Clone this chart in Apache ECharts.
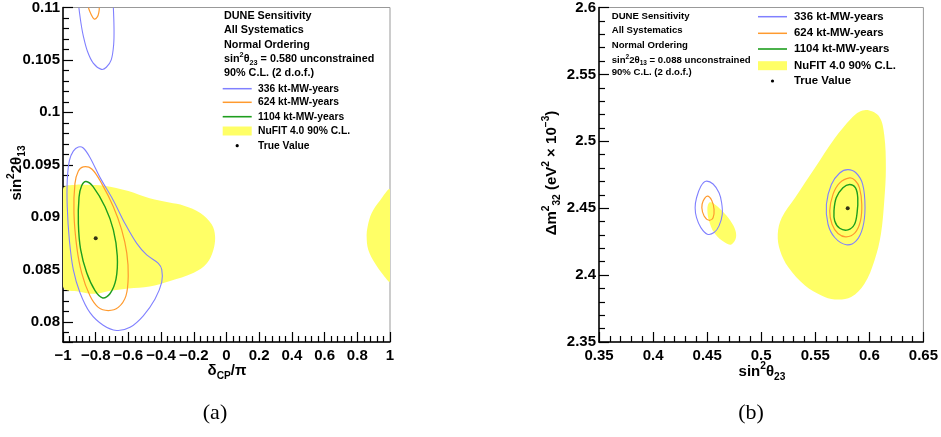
<!DOCTYPE html>
<html><head><meta charset="utf-8">
<script src="https://cdn.jsdelivr.net/npm/echarts@6/dist/echarts.min.js"></script>
<style>html,body{margin:0;padding:0;background:#fff}#c{width:941px;height:437px}</style>
</head><body><div id="c"></div>
<script>
// ---------- data ----------
// Panel (a): x = deltaCP/pi, y = sin^2(2 theta13)
const xTicksA = [-1, -0.8, -0.6, -0.4, -0.2, 0, 0.2, 0.4, 0.6, 0.8, 1];
const yTicksA = [0.08, 0.085, 0.09, 0.095, 0.1, 0.105, 0.11];
const blueA_main = [[-0.906,0.0967],[-0.937,0.0963],[-0.961,0.0954],[-0.974,0.0935],[-0.974,0.0910],[-0.961,0.0878],[-0.937,0.0850],[-0.896,0.0828],[-0.835,0.0809],[-0.754,0.0797],[-0.672,0.0792],[-0.590,0.0795],[-0.509,0.0806],[-0.437,0.0822],[-0.396,0.0838],[-0.396,0.0850],[-0.417,0.0856],[-0.488,0.0864],[-0.549,0.0875],[-0.621,0.0894],[-0.692,0.0916],[-0.774,0.0938],[-0.835,0.0957],[-0.876,0.0966]];
const blueA_top = [[-0.903,0.1100],[-0.890,0.1085],[-0.876,0.1073],[-0.850,0.1058],[-0.815,0.1047],[-0.765,0.1041],[-0.735,0.1043],[-0.705,0.1050],[-0.690,0.1065],[-0.688,0.1080],[-0.692,0.1100]];
const orangeA_main = [[-0.876,0.0948],[-0.906,0.0944],[-0.927,0.0932],[-0.933,0.0904],[-0.916,0.0872],[-0.886,0.0847],[-0.835,0.0825],[-0.784,0.0814],[-0.723,0.0811],[-0.662,0.0814],[-0.615,0.0825],[-0.601,0.0844],[-0.610,0.0866],[-0.641,0.0888],[-0.692,0.0910],[-0.763,0.0932],[-0.824,0.0946]];
const orangeA_top = [[-0.845,0.1100],[-0.830,0.1094],[-0.810,0.1089],[-0.790,0.1091],[-0.780,0.1096],[-0.778,0.1100]];
const greenA = [[-0.859,0.0934],[-0.886,0.0930],[-0.902,0.0919],[-0.906,0.0894],[-0.892,0.0869],[-0.855,0.0847],[-0.804,0.0830],[-0.757,0.0823],[-0.713,0.0827],[-0.676,0.0841],[-0.668,0.0863],[-0.692,0.0888],[-0.743,0.0910],[-0.815,0.0929]];
const nufitA_left = [[-1,0.0927],[-0.92,0.0931],[-0.85,0.0931],[-0.75,0.0930],[-0.6,0.0925],[-0.47,0.0918],[-0.35,0.0914],[-0.26,0.0911],[-0.16,0.0904],[-0.09,0.0893],[-0.07,0.0882],[-0.08,0.0869],[-0.12,0.0856],[-0.2,0.0847],[-0.35,0.0839],[-0.47,0.0834],[-0.6,0.0832],[-0.7,0.0830],[-0.8,0.0827],[-0.9,0.0829],[-1,0.0834]];
const nufitA_right = [[1,0.0926],[0.939,0.0916],[0.888,0.0904],[0.863,0.0891],[0.857,0.0882],[0.867,0.0869],[0.908,0.0856],[0.959,0.0845],[1,0.0839]];
const trueA = [[-0.8, 0.088]];

// Panel (b): x = sin^2 theta23, y = dm^2_32 (1e-3 eV^2)
const xTicksB = [0.35, 0.4, 0.45, 0.5, 0.55, 0.6, 0.65];
const yTicksB = [2.35, 2.4, 2.45, 2.5, 2.55, 2.6];
const blueB_lo = [[0.4488,2.4702],[0.4442,2.4664],[0.4402,2.4578],[0.4389,2.4503],[0.4402,2.4429],[0.4442,2.4355],[0.4502,2.4306],[0.4564,2.4318],[0.4610,2.4368],[0.4640,2.4454],[0.4634,2.4541],[0.4610,2.4615],[0.4555,2.4681]];
const orangeB_lo = [[0.4502,2.4590],[0.4463,2.4553],[0.4451,2.4503],[0.4472,2.4442],[0.4518,2.4410],[0.4555,2.4429],[0.4564,2.4491],[0.4543,2.4558]];
const nufitB_lo = [[0.4518,2.4541],[0.4560,2.4535],[0.4640,2.4479],[0.4717,2.4405],[0.4763,2.4330],[0.4763,2.4269],[0.4717,2.4227],[0.4640,2.4256],[0.4564,2.4318],[0.4518,2.4405],[0.4502,2.4491]];
const nufitB_hi = [[0.5985,2.5233],[0.6092,2.5184],[0.6138,2.5048],[0.6153,2.4800],[0.6138,2.4553],[0.6107,2.4306],[0.6047,2.4108],[0.5955,2.3935],[0.5832,2.3836],[0.5680,2.3818],[0.5557,2.3848],[0.5405,2.3922],[0.5251,2.4058],[0.5175,2.4182],[0.5153,2.4306],[0.5190,2.4429],[0.5313,2.4578],[0.5496,2.4800],[0.5680,2.5023],[0.5832,2.5171],[0.5909,2.5221]];
const blueB_hi = [[0.5802,2.4788],[0.5726,2.4763],[0.5649,2.4677],[0.5603,2.4529],[0.5618,2.4380],[0.5680,2.4281],[0.5786,2.4227],[0.5878,2.4256],[0.5939,2.4355],[0.5960,2.4503],[0.5939,2.4677],[0.5878,2.4763]];
const orangeB_hi = [[0.5817,2.4726],[0.5726,2.4689],[0.5664,2.4603],[0.5634,2.4479],[0.5655,2.4380],[0.5710,2.4311],[0.5786,2.4286],[0.5869,2.4318],[0.5918,2.4405],[0.5930,2.4529],[0.5909,2.4652],[0.5869,2.4707]];
const greenB_hi = [[0.5817,2.4677],[0.5756,2.4652],[0.5694,2.4578],[0.5673,2.4479],[0.5680,2.4405],[0.5726,2.4350],[0.5802,2.4338],[0.5863,2.4380],[0.5887,2.4467],[0.5893,2.4578],[0.5872,2.4652]];
const trueB = [[0.58, 2.45]];

const legendNames = ['336 kt-MW-years', '624 kt-MW-years', '1104 kt-MW-years', 'NuFIT 4.0 90% C.L.', 'True Value'];

// ---------- styling ----------
const F = 'Liberation Sans';
const C_BLUE = '#8080ff', C_ORANGE = '#ff9a2e', C_GREEN = '#1e9e1e', C_YEL = '#ffff66';

function richSet(s, w) {
  const base = {fontFamily: F, fontWeight: w || 'bold', color: '#000'};
  const ss = Math.round(s * 0.68 * 10) / 10;
  return {
    n: Object.assign({}, base, {fontSize: s, lineHeight: Math.round(s * 1.4)}),
    sup: Object.assign({}, base, {fontSize: ss, lineHeight: ss, verticalAlign: 'top'}),
    sub: Object.assign({}, base, {fontSize: ss, lineHeight: ss, verticalAlign: 'bottom'})
  };
}
function txt(x, y, text, size, opt) {
  opt = opt || {};
  return {type: 'text', x: x, y: y, rotation: opt.rot || 0, silent: true, z: 10,
    style: {text: text, rich: richSet(size, opt.w), align: opt.align || 'left', verticalAlign: 'middle'}};
}

function shapes(name, ai, list, z) {
  // list: [{pts, closed, fill, stroke, width}]
  return {
    type: 'custom', name: name, xAxisIndex: ai, yAxisIndex: ai, clip: true, silent: true, z: z,
    data: list.map(o => o.pts[0]),
    renderItem: function (params, api) {
      const o = list[params.dataIndex];
      const pts = o.pts.map(p => api.coord(p));
      return {
        type: o.closed ? 'polygon' : 'polyline',
        shape: {points: pts, smooth: 0.35},
        style: {fill: o.fill || 'none', stroke: o.stroke || null, lineWidth: o.width || 0}
      };
    }
  };
}

function axisCommon(extra) {
  return Object.assign({
    type: 'value',
    axisLine: {onZero: false, lineStyle: {color: '#000', width: 1.5}},
    axisTick: {show: true, inside: true, length: 10, lineStyle: {color: '#000', width: 1.2}},
    minorTick: {show: true, splitNumber: 5, length: 6, lineStyle: {color: '#000', width: 1.2}},
    splitLine: {show: false},
    axisLabel: {fontFamily: F, fontWeight: 'bold', fontSize: 15, color: '#000'}
  }, extra);
}

const chart = echarts.init(document.getElementById('c'), null, {renderer: 'canvas'});
const option = {
  animation: false,
  backgroundColor: '#fff',
  grid: [
    {left: 63, top: 5, width: 327, height: 337, show: true, borderColor: '#999', borderWidth: 1},
    {left: 599, top: 5, width: 327, height: 337, show: true, borderColor: '#999', borderWidth: 1}
  ],
  xAxis: [
    axisCommon({gridIndex: 0, min: xTicksA[0], max: xTicksA[xTicksA.length - 1], interval: 0.2,
      axisLabel: {fontFamily: F, fontWeight: 'bold', fontSize: 15, color: '#000', margin: 6,
        formatter: v => { const r = +(+v).toFixed(2); return r === 0 ? '0' : String(r).replace('-', '\u2212'); }}}),
    axisCommon({gridIndex: 1, min: xTicksB[0], max: xTicksB[xTicksB.length - 1], interval: 0.05,
      axisLabel: {fontFamily: F, fontWeight: 'bold', fontSize: 15, color: '#000', margin: 6,
        formatter: v => String(+(+v).toFixed(2))}})
  ],
  yAxis: [
    axisCommon({gridIndex: 0, min: 0.0781, max: yTicksA[yTicksA.length - 1], splitNumber: 6,
      axisLabel: {fontFamily: F, fontWeight: 'bold', fontSize: 15, color: '#000', margin: 3, showMinLabel: false,
        formatter: v => String(+(+v).toFixed(3))}}),
    axisCommon({gridIndex: 1, min: yTicksB[0], max: yTicksB[yTicksB.length - 1], interval: 0.05,
      axisLabel: {fontFamily: F, fontWeight: 'bold', fontSize: 15, color: '#000', margin: 3,
        formatter: v => String(+(+v).toFixed(2))}})
  ],
  series: [
    shapes(legendNames[3], 0, [{pts: nufitA_left, closed: true, fill: C_YEL}, {pts: nufitA_right, closed: true, fill: C_YEL}], 1),
    shapes(legendNames[0], 0, [{pts: blueA_main, closed: true, stroke: C_BLUE, width: 1.1}, {pts: blueA_top, closed: false, stroke: C_BLUE, width: 1.1}], 3),
    shapes(legendNames[1], 0, [{pts: orangeA_main, closed: true, stroke: C_ORANGE, width: 1.2}, {pts: orangeA_top, closed: false, stroke: C_ORANGE, width: 1.2}], 3),
    shapes(legendNames[2], 0, [{pts: greenA, closed: true, stroke: C_GREEN, width: 1.4}], 3),
    {type: 'scatter', name: legendNames[4], xAxisIndex: 0, yAxisIndex: 0, data: trueA, symbol: 'circle', symbolSize: 4, itemStyle: {color: '#000'}, z: 5, silent: true},

    shapes(legendNames[3], 1, [{pts: nufitB_lo, closed: true, fill: C_YEL}, {pts: nufitB_hi, closed: true, fill: C_YEL}], 1),
    shapes(legendNames[0], 1, [{pts: blueB_lo, closed: true, stroke: C_BLUE, width: 1.1}, {pts: blueB_hi, closed: true, stroke: C_BLUE, width: 1.1}], 3),
    shapes(legendNames[1], 1, [{pts: orangeB_lo, closed: true, stroke: C_ORANGE, width: 1.2}, {pts: orangeB_hi, closed: true, stroke: C_ORANGE, width: 1.2}], 3),
    shapes(legendNames[2], 1, [{pts: greenB_hi, closed: true, stroke: C_GREEN, width: 1.4}], 3),
    {type: 'scatter', name: legendNames[4], xAxisIndex: 1, yAxisIndex: 1, data: trueB, symbol: 'circle', symbolSize: 4, itemStyle: {color: '#000'}, z: 5, silent: true}
  ],
  graphic: []
};

// ---------- text & legends ----------
const G = option.graphic;
// panel (a) annotation
const annA = ['{n|DUNE Sensitivity}', '{n|All Systematics}', '{n|Normal Ordering}',
  '{n|sin}{sup|2}{n|\u03b8}{sub|23}{n| = 0.580 unconstrained}', '{n|90% C.L. (2 d.o.f.)}'];
const annAy = [16, 30.3, 45, 59.3, 72.7];
annA.forEach((t, i) => G.push(txt(224, annAy[i], t, 10.8)));
// panel (b) annotation
const annB = ['{n|DUNE Sensitivity}', '{n|All Systematics}', '{n|Normal Ordering}',
  '{n|sin}{sup|2}{n|2\u03b8}{sub|13}{n| = 0.088 unconstrained}', '{n|90% C.L. (2 d.o.f.)}'];
const annBy = [16, 30.7, 45, 60, 72.7];
annB.forEach((t, i) => G.push(txt(611.7, annBy[i], t, 9.6)));

function legend(x0, lw, tx, ys, size) {
  const cols = [C_BLUE, C_ORANGE, C_GREEN];
  const wid = [1.5, 1.5, 1.6];
  for (let i = 0; i < 3; i++) {
    G.push({type: 'line', silent: true, z: 10, shape: {x1: x0, y1: ys[i], x2: x0 + lw, y2: ys[i]}, style: {stroke: cols[i], lineWidth: wid[i]}});
  }
  G.push({type: 'rect', silent: true, z: 10, shape: {x: x0, y: ys[3] - 4.5, width: lw, height: 9}, style: {fill: C_YEL}});
  G.push({type: 'circle', silent: true, z: 10, shape: {cx: x0 + lw / 2, cy: ys[4], r: 1.6}, style: {fill: '#000'}});
  legendNames.forEach((n, i) => G.push(txt(tx, ys[i], '{n|' + n + '}', size)));
}
legend(222.7, 29, 258, [88.7, 102.3, 116.7, 131, 145.7], 10.3);
legend(758, 29, 794, [16.7, 33.3, 49, 65.7, 81], 11.4);

// axis titles
G.push(txt(227, 371, '{n|\u03b4}{sub|CP}{n|/\u03c0}', 15, {align: 'center'}));
G.push(txt(762, 372, '{n|sin}{sup|2}{n|\u03b8}{sub|23}', 15, {align: 'center'}));
G.push(txt(17, 173, '{n|sin}{sup|2}{n|2\u03b8}{sub|13}', 15, {align: 'center', rot: Math.PI / 2}));
G.push(txt(552, 173, '{n|\u0394m}{sup|2}{sub|32}{n| (eV}{sup|2}{n| \u00d7 10}{sup|\u22123}{n|)}', 15, {align: 'center', rot: Math.PI / 2}));

// sub-figure labels
G.push({type: 'text', x: 215, y: 413, silent: true, style: {text: '(a)', fontFamily: 'Liberation Serif', fontSize: 22, fill: '#000', align: 'center', verticalAlign: 'middle'}});
G.push({type: 'text', x: 751, y: 413, silent: true, style: {text: '(b)', fontFamily: 'Liberation Serif', fontSize: 22, fill: '#000', align: 'center', verticalAlign: 'middle'}});

chart.setOption(option);
</script></body></html>
